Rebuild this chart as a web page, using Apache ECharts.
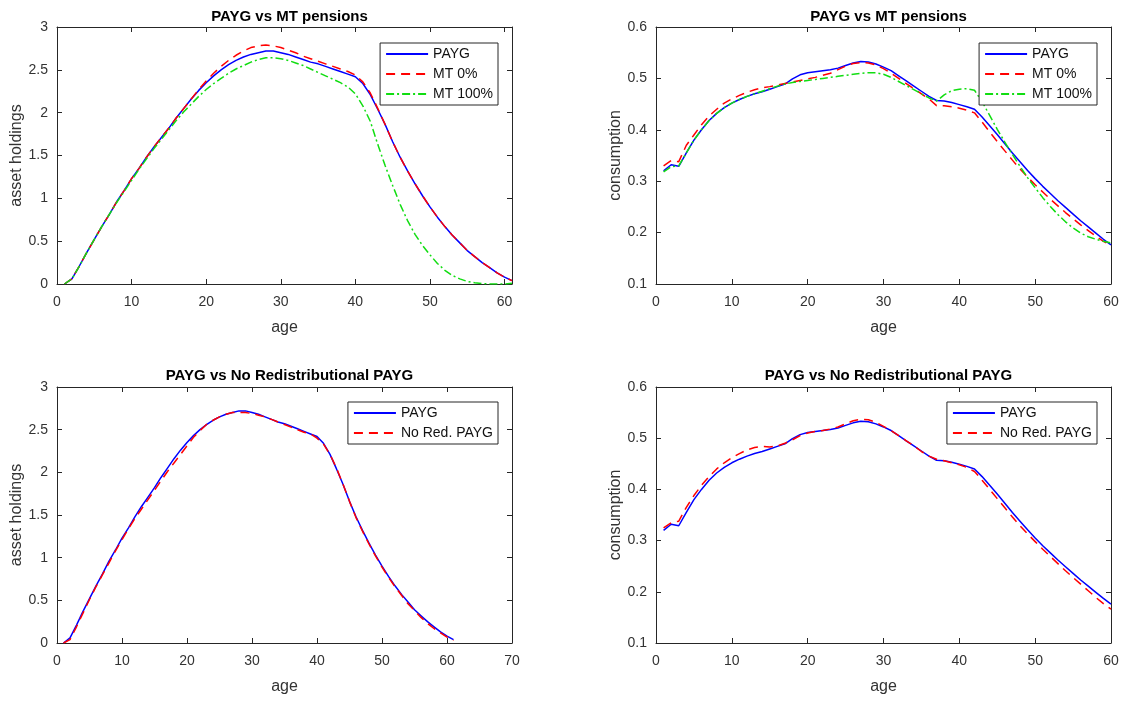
<!DOCTYPE html>
<html>
<head>
<meta charset="utf-8">
<script src="https://cdn.jsdelivr.net/npm/echarts@6/dist/echarts.min.js"></script>
<style>html,body{margin:0;padding:0;background:#fff}#c{width:1129px;height:702px}</style>
</head>
<body>
<div id="c"></div>
<script>
// ---------- data ----------
const agesAsset = [1,2,3,4,5,6,7,8,9,10,11,12,13,14,15,16,17,18,19,20,21,22,23,24,25,26,27,28,29,30,31,32,33,34,35,36,37,38,39,40,41,42,43,44,45,46,47,48,49,50,51,52,53,54,55,56,57,58,59,60,61];
const agesCons = [1,2,3,4,5,6,7,8,9,10,11,12,13,14,15,16,17,18,19,20,21,22,23,24,25,26,27,28,29,30,31,32,33,34,35,36,37,38,39,40,41,42,43,44,45,46,47,48,49,50,51,52,53,54,55,56,57,58,59,60];

const assetPAYG = [0.00,0.06,0.21,0.37,0.52,0.67,0.81,0.96,1.09,1.23,1.35,1.48,1.60,1.71,1.82,1.94,2.05,2.16,2.26,2.35,2.43,2.50,2.56,2.61,2.65,2.68,2.70,2.72,2.72,2.70,2.68,2.65,2.62,2.59,2.57,2.54,2.51,2.48,2.45,2.42,2.34,2.21,2.04,1.86,1.66,1.48,1.32,1.17,1.03,0.90,0.78,0.67,0.57,0.48,0.39,0.32,0.25,0.19,0.13,0.08,0.04];
const assetMT0 = [0.00,0.06,0.21,0.37,0.52,0.67,0.81,0.96,1.09,1.23,1.35,1.48,1.60,1.71,1.82,1.94,2.05,2.16,2.27,2.37,2.46,2.54,2.61,2.67,2.72,2.76,2.78,2.79,2.78,2.76,2.73,2.70,2.66,2.63,2.60,2.57,2.54,2.51,2.48,2.44,2.36,2.23,2.05,1.86,1.66,1.48,1.32,1.17,1.03,0.90,0.78,0.67,0.57,0.48,0.39,0.32,0.25,0.19,0.13,0.08,0.04];
const assetMT100 = [0.00,0.06,0.21,0.37,0.52,0.67,0.81,0.95,1.08,1.21,1.34,1.46,1.58,1.69,1.80,1.91,2.01,2.10,2.19,2.27,2.34,2.40,2.46,2.51,2.55,2.59,2.62,2.64,2.64,2.63,2.61,2.58,2.55,2.51,2.47,2.43,2.39,2.35,2.30,2.22,2.08,1.90,1.63,1.38,1.15,0.93,0.74,0.58,0.45,0.34,0.24,0.16,0.10,0.06,0.03,0.015,0.005,0.00,0.00,0.00,0.01];
const assetNoRed = [0.00,0.04,0.19,0.35,0.51,0.66,0.80,0.94,1.08,1.21,1.34,1.46,1.57,1.68,1.79,1.90,2.01,2.11,2.21,2.31,2.41,2.49,2.56,2.61,2.65,2.68,2.70,2.70,2.70,2.69,2.67,2.65,2.62,2.59,2.56,2.53,2.50,2.47,2.45,2.40,2.33,2.21,2.05,1.86,1.66,1.47,1.31,1.16,1.02,0.89,0.77,0.66,0.56,0.46,0.38,0.30,0.23,0.17,0.12,0.07,0.03];

const consPAYG = [0.320,0.332,0.329,0.355,0.380,0.400,0.418,0.432,0.443,0.452,0.459,0.465,0.470,0.474,0.479,0.484,0.489,0.499,0.507,0.511,0.513,0.515,0.517,0.520,0.525,0.530,0.533,0.532,0.528,0.522,0.515,0.505,0.495,0.485,0.475,0.465,0.457,0.456,0.453,0.449,0.445,0.440,0.425,0.408,0.391,0.373,0.355,0.338,0.321,0.305,0.290,0.276,0.262,0.249,0.236,0.223,0.211,0.199,0.187,0.176];
const consMT0 = [0.330,0.340,0.338,0.370,0.390,0.410,0.427,0.440,0.452,0.460,0.467,0.473,0.478,0.482,0.484,0.487,0.490,0.493,0.496,0.499,0.502,0.506,0.510,0.517,0.524,0.529,0.531,0.530,0.526,0.519,0.510,0.500,0.490,0.480,0.470,0.460,0.447,0.447,0.445,0.442,0.438,0.433,0.415,0.396,0.377,0.359,0.341,0.324,0.308,0.293,0.279,0.265,0.252,0.239,0.227,0.215,0.204,0.193,0.183,0.175];
const consMT100 = [0.318,0.328,0.330,0.355,0.380,0.400,0.418,0.432,0.443,0.452,0.459,0.465,0.470,0.475,0.480,0.485,0.489,0.492,0.494,0.496,0.498,0.500,0.502,0.504,0.506,0.508,0.510,0.511,0.511,0.508,0.502,0.494,0.486,0.478,0.470,0.462,0.456,0.468,0.476,0.479,0.480,0.477,0.455,0.428,0.401,0.376,0.352,0.329,0.307,0.287,0.268,0.251,0.235,0.221,0.209,0.199,0.192,0.187,0.183,0.180];
const consNoRed = [0.325,0.335,0.338,0.365,0.388,0.408,0.425,0.440,0.452,0.462,0.470,0.477,0.482,0.484,0.483,0.485,0.490,0.497,0.505,0.510,0.513,0.515,0.518,0.522,0.528,0.534,0.537,0.536,0.531,0.523,0.515,0.505,0.495,0.485,0.474,0.465,0.459,0.456,0.452,0.448,0.443,0.435,0.418,0.400,0.382,0.364,0.346,0.329,0.313,0.298,0.283,0.269,0.255,0.241,0.228,0.215,0.202,0.189,0.177,0.166];

const titles = ['PAYG vs MT pensions','PAYG vs MT pensions','PAYG vs No Redistributional PAYG','PAYG vs No Redistributional PAYG'];
const yNames = ['asset holdings','consumption','asset holdings','consumption'];
const xName = 'age';
const legendTop = ['PAYG','MT 0%','MT 100%'];
const legendBottom = ['PAYG','No Red. PAYG'];

// ---------- layout ----------
const FONT = '"Liberation Sans", Arial, Helvetica, sans-serif';
const AX = '#262626';
const grids = [
  {left:57, top:27, width:455, height:257},
  {left:656, top:27, width:455, height:257},
  {left:57, top:387, width:455, height:256},
  {left:656, top:387, width:455, height:256}
];
const xRanges = [[0,61],[0,60],[0,70],[0,60]];
const yRanges = [[0,3,0.5],[0.1,0.6,0.1],[0,3,0.5],[0.1,0.6,0.1]];
const yGaps = [31,30,31,30];

const xAxes = [], yAxes = [];
grids.forEach((g, i) => {
  const common = {gridIndex:i, type:'value', min:xRanges[i][0], max:xRanges[i][1], interval:10,
    splitLine:{show:false}, axisLine:{show:true, onZero:false, lineStyle:{color:AX, width:1}},
    axisTick:{show:true, inside:true, length:5, lineStyle:{color:AX}}};
  xAxes.push(Object.assign({}, common, {position:'bottom', name:xName, nameLocation:'middle', nameGap:36,
    nameTextStyle:{fontFamily:FONT, fontSize:16, color:'#333'},
    axisLabel:{fontFamily:FONT, fontSize:14, color:'#333', margin:11,
      formatter: v => (v % 10 === 0 ? String(v) : '')}}));
  xAxes.push(Object.assign({}, common, {position:'top', axisLabel:{show:false}}));
  const yc = {gridIndex:i, type:'value', min:yRanges[i][0], max:yRanges[i][1], interval:yRanges[i][2],
    splitLine:{show:false}, axisLine:{show:true, onZero:false, lineStyle:{color:AX, width:1}},
    axisTick:{show:true, inside:true, length:5, lineStyle:{color:AX}}};
  yAxes.push(Object.assign({}, yc, {position:'left', name:yNames[i], nameLocation:'middle', nameGap:yGaps[i],
    nameTextStyle:{fontFamily:FONT, fontSize:16, color:'#333'},
    axisLabel:{fontFamily:FONT, fontSize:14, color:'#333', margin:9}}));
  yAxes.push(Object.assign({}, yc, {position:'right', axisLabel:{show:false}}));
});

function pairs(xs, ys){ return xs.map((x,k)=>[x, ys[k]]); }
function mk(name, grid, xs, ys, color, dash){
  return {type:'line', name:name, xAxisIndex:grid*2, yAxisIndex:grid*2, data:pairs(xs, ys),
    symbol:'none', smooth:false, animation:false, z: (color==='#0000ff'?2:3),
    lineStyle:{color:color, width:1.5, type:dash}, itemStyle:{color:color}};
}
const SOLID='solid', DASH=[9,6], DASHDOT=[8,3,2,3];
const BLUE='#0000ff', RED='#ff0000', GREEN='#11dd11';
const series = [
  mk('PAYG',0,agesAsset,assetPAYG,BLUE,SOLID),
  mk('MT 0%',0,agesAsset,assetMT0,RED,DASH),
  mk('MT 100%',0,agesAsset,assetMT100,GREEN,DASHDOT),
  mk('PAYG',1,agesCons,consPAYG,BLUE,SOLID),
  mk('MT 0%',1,agesCons,consMT0,RED,DASH),
  mk('MT 100%',1,agesCons,consMT100,GREEN,DASHDOT),
  mk('PAYG',2,agesAsset,assetPAYG,BLUE,SOLID),
  mk('No Red. PAYG',2,agesAsset,assetNoRed,RED,DASH),
  mk('PAYG',3,agesCons,consPAYG,BLUE,SOLID),
  mk('No Red. PAYG',3,agesCons,consNoRed,RED,DASH)
];

function lg(data, right, top){
  return {data:data, orient:'vertical', right:right, top:top, itemWidth:42, itemHeight:14, itemGap:6,
    padding:[4,5,4,5], backgroundColor:'#fff', borderColor:AX, borderWidth:1, borderRadius:0,
    itemStyle:{opacity:0},
    textStyle:{fontFamily:FONT, fontSize:14, color:'#111'}, selectedMode:false};
}

const option = {
  backgroundColor:'#fff',
  animation:false,
  title: grids.map((g,i)=>({text:titles[i], left:g.left+g.width/2, top:(i<2?4:363), textAlign:'center',
    textStyle:{fontFamily:FONT, fontSize:15, fontWeight:'bold', color:'#000'}})),
  grid: grids,
  xAxis: xAxes,
  yAxis: yAxes,
  legend: [lg(legendTop, 631, 43), lg(legendTop, 32, 43), lg(legendBottom, 631, 402), lg(legendBottom, 32, 402)],
  series: series
};
const chart = echarts.init(document.getElementById('c'), null, {renderer:'canvas'});
chart.setOption(option);
</script>
</body>
</html>
